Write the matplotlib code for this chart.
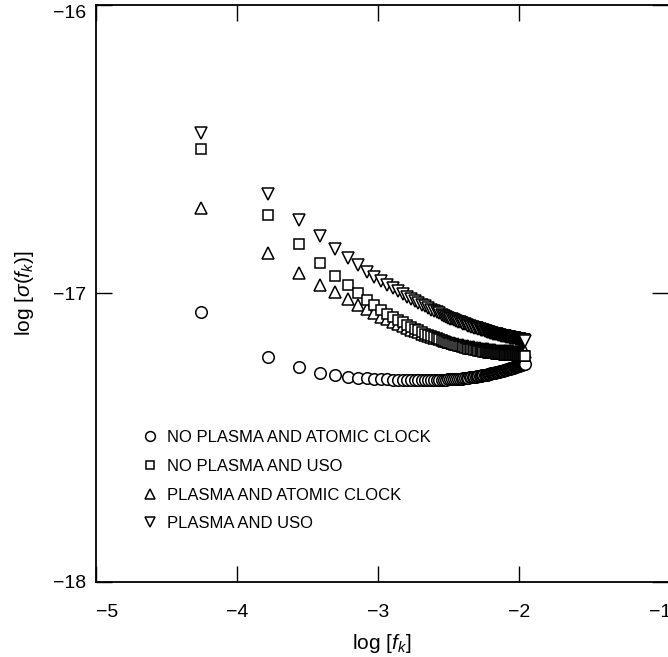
import numpy as np
import matplotlib
matplotlib.use("Agg")
import matplotlib.pyplot as plt

plt.rcParams['font.family'] = ['Liberation Sans', 'DejaVu Sans']
plt.rcParams['mathtext.fontset'] = 'custom'
plt.rcParams['mathtext.rm'] = 'Liberation Sans'
plt.rcParams['mathtext.it'] = 'Liberation Sans:italic'

# fundamental frequency (Hz) and odd harmonic numbers k
F1 = 1 / 18000.0
HARMONIC = [
    1, 3, 5, 7, 9, 11, 13, 15, 17, 19,
    21, 23, 25, 27, 29, 31, 33, 35, 37, 39,
    41, 43, 45, 47, 49, 51, 53, 55, 57, 59,
    61, 63, 65, 67, 69, 71, 73, 75, 77, 79,
    81, 83, 85, 87, 89, 91, 93, 95, 97, 99,
    101, 103, 105, 107, 109, 111, 113, 115, 117, 119,
    121, 123, 125, 127, 129, 131, 133, 135, 137, 139,
    141, 143, 145, 147, 149, 151, 153, 155, 157, 159,
    161, 163, 165, 167, 169, 171, 173, 175, 177, 179,
    181, 183, 185, 187, 189, 191, 193, 195, 197, 199,
]

# log sigma
no_plasma_atomic = [
    -17.065, -17.220, -17.255, -17.274, -17.283, -17.288, -17.292, -17.294, -17.296, -17.297,
    -17.298, -17.299, -17.299, -17.300, -17.300, -17.300, -17.300, -17.300, -17.300, -17.300,
    -17.300, -17.300, -17.300, -17.300, -17.300, -17.300, -17.299, -17.299, -17.298, -17.298,
    -17.298, -17.297, -17.296, -17.296, -17.295, -17.295, -17.294, -17.293, -17.292, -17.292,
    -17.291, -17.290, -17.289, -17.289, -17.288, -17.287, -17.286, -17.285, -17.285, -17.284,
    -17.283, -17.282, -17.281, -17.281, -17.280, -17.279, -17.278, -17.277, -17.276, -17.275,
    -17.275, -17.274, -17.273, -17.272, -17.271, -17.271, -17.270, -17.269, -17.268, -17.267,
    -17.266, -17.266, -17.265, -17.264, -17.263, -17.262, -17.261, -17.261, -17.260, -17.259,
    -17.258, -17.257, -17.257, -17.256, -17.255, -17.254, -17.253, -17.253, -17.252, -17.251,
    -17.250, -17.249, -17.249, -17.248, -17.247, -17.246, -17.245, -17.245, -17.244, -17.243,
]
no_plasma_uso = [
    -16.500, -16.728, -16.828, -16.893, -16.938, -16.972, -16.997, -17.022, -17.040, -17.057,
    -17.070, -17.081, -17.091, -17.100, -17.108, -17.116, -17.122, -17.128, -17.134, -17.139,
    -17.143, -17.148, -17.152, -17.155, -17.159, -17.162, -17.165, -17.167, -17.170, -17.173,
    -17.175, -17.177, -17.179, -17.181, -17.183, -17.184, -17.186, -17.188, -17.189, -17.191,
    -17.192, -17.193, -17.194, -17.195, -17.196, -17.197, -17.198, -17.199, -17.200, -17.201,
    -17.202, -17.203, -17.203, -17.204, -17.205, -17.205, -17.206, -17.206, -17.207, -17.207,
    -17.208, -17.208, -17.209, -17.209, -17.210, -17.210, -17.210, -17.211, -17.211, -17.211,
    -17.212, -17.212, -17.212, -17.212, -17.213, -17.213, -17.213, -17.213, -17.213, -17.214,
    -17.214, -17.214, -17.214, -17.214, -17.214, -17.214, -17.214, -17.215, -17.215, -17.215,
    -17.215, -17.215, -17.215, -17.215, -17.215, -17.215, -17.215, -17.215, -17.215, -17.215,
]
plasma_atomic = [
    -16.705, -16.860, -16.929, -16.970, -16.996, -17.019, -17.040, -17.055, -17.069, -17.080,
    -17.090, -17.099, -17.107, -17.114, -17.120, -17.125, -17.131, -17.135, -17.139, -17.143,
    -17.147, -17.150, -17.153, -17.156, -17.159, -17.161, -17.163, -17.166, -17.168, -17.169,
    -17.171, -17.173, -17.175, -17.176, -17.177, -17.179, -17.180, -17.181, -17.182, -17.183,
    -17.184, -17.185, -17.186, -17.187, -17.188, -17.189, -17.189, -17.190, -17.191, -17.192,
    -17.192, -17.193, -17.193, -17.194, -17.194, -17.195, -17.195, -17.196, -17.196, -17.197,
    -17.197, -17.197, -17.198, -17.198, -17.198, -17.199, -17.199, -17.199, -17.199, -17.200,
    -17.200, -17.200, -17.200, -17.201, -17.201, -17.201, -17.201, -17.201, -17.201, -17.201,
    -17.201, -17.201, -17.202, -17.202, -17.202, -17.202, -17.202, -17.202, -17.202, -17.202,
    -17.202, -17.202, -17.202, -17.202, -17.202, -17.202, -17.202, -17.202, -17.202, -17.202,
]
plasma_uso = [
    -16.445, -16.655, -16.745, -16.800, -16.845, -16.877, -16.903, -16.924, -16.942, -16.957,
    -16.969, -16.982, -16.993, -17.002, -17.011, -17.019, -17.027, -17.033, -17.040, -17.045,
    -17.051, -17.056, -17.061, -17.065, -17.069, -17.073, -17.077, -17.080, -17.084, -17.087,
    -17.090, -17.092, -17.095, -17.098, -17.100, -17.102, -17.105, -17.107, -17.109, -17.111,
    -17.113, -17.115, -17.116, -17.118, -17.120, -17.121, -17.123, -17.124, -17.126, -17.127,
    -17.128, -17.130, -17.131, -17.132, -17.133, -17.134, -17.136, -17.137, -17.138, -17.139,
    -17.140, -17.141, -17.141, -17.142, -17.143, -17.144, -17.145, -17.146, -17.146, -17.147,
    -17.148, -17.149, -17.149, -17.150, -17.151, -17.151, -17.152, -17.152, -17.153, -17.154,
    -17.154, -17.155, -17.155, -17.156, -17.156, -17.157, -17.157, -17.158, -17.158, -17.159,
    -17.159, -17.159, -17.160, -17.160, -17.161, -17.161, -17.162, -17.162, -17.162, -17.163,
]

x_ticks = [-5, -4, -3, -2, -1]
y_ticks = [-18, -17, -16]

log_f = np.log10(F1 * np.array(HARMONIC))

fig = plt.figure(figsize=(6.68, 6.57), dpi=100)
ax = fig.add_axes([0.1433, 0.1142, 0.857, 0.8782])

style = dict(linestyle='none', markersize=8.3, markerfacecolor='white',
             markeredgecolor='black', markeredgewidth=1.1)
h_c, = ax.plot(log_f, no_plasma_atomic, marker='o', label='NO PLASMA AND ATOMIC CLOCK', **style)
h_u, = ax.plot(log_f, plasma_atomic, marker='^', label='PLASMA AND ATOMIC CLOCK', **style)
h_s, = ax.plot(log_f, no_plasma_uso, marker='s', label='NO PLASMA AND USO',
               **{**style, 'markersize': 7.4})
h_d, = ax.plot(log_f, plasma_uso, marker='v', label='PLASMA AND USO', **style)

ax.set_xlim(-5, -0.94)
ax.set_ylim(-18, -16)
ax.set_xticks(x_ticks)
ax.set_yticks(y_ticks)
ax.set_xticklabels([f'\u2212{abs(v)}' for v in x_ticks])
ax.set_yticklabels([f'\u2212{abs(v)}' for v in y_ticks])

ax.tick_params(direction='in', length=11.5, width=1.0, top=True, right=True,
               labelsize=14, colors='black')
ax.tick_params(axis='x', pad=16)
ax.tick_params(axis='y', pad=7)
# the -1 tick sits on the (cropped) right border
last = ax.xaxis.get_major_ticks()[-1]
last.tick1line.set_visible(False)
last.tick2line.set_visible(False)
# end labels are kept inside the frame
ax.get_xticklabels()[0].set_ha('left')
ax.get_yticklabels()[-1].set_va('top')

for side in ['left', 'bottom', 'top']:
    ax.spines[side].set_linewidth(1.3)
ax.spines['right'].set_visible(False)

ax.set_xlabel(r'log [$f_k$]', fontsize=15, labelpad=8)
ax.set_ylabel(r'log [$\sigma(f_k)$]', fontsize=15, labelpad=12)

ax.legend(handles=[h_c, h_s, h_u, h_d], loc='upper left', bbox_to_anchor=(0.081, 0.263),
          frameon=False, fontsize=12, markerscale=0.85, numpoints=1,
          handlelength=1.0, handletextpad=0.5, labelspacing=0.82,
          borderpad=0, borderaxespad=0)

fig.savefig('out.png', dpi=100)
